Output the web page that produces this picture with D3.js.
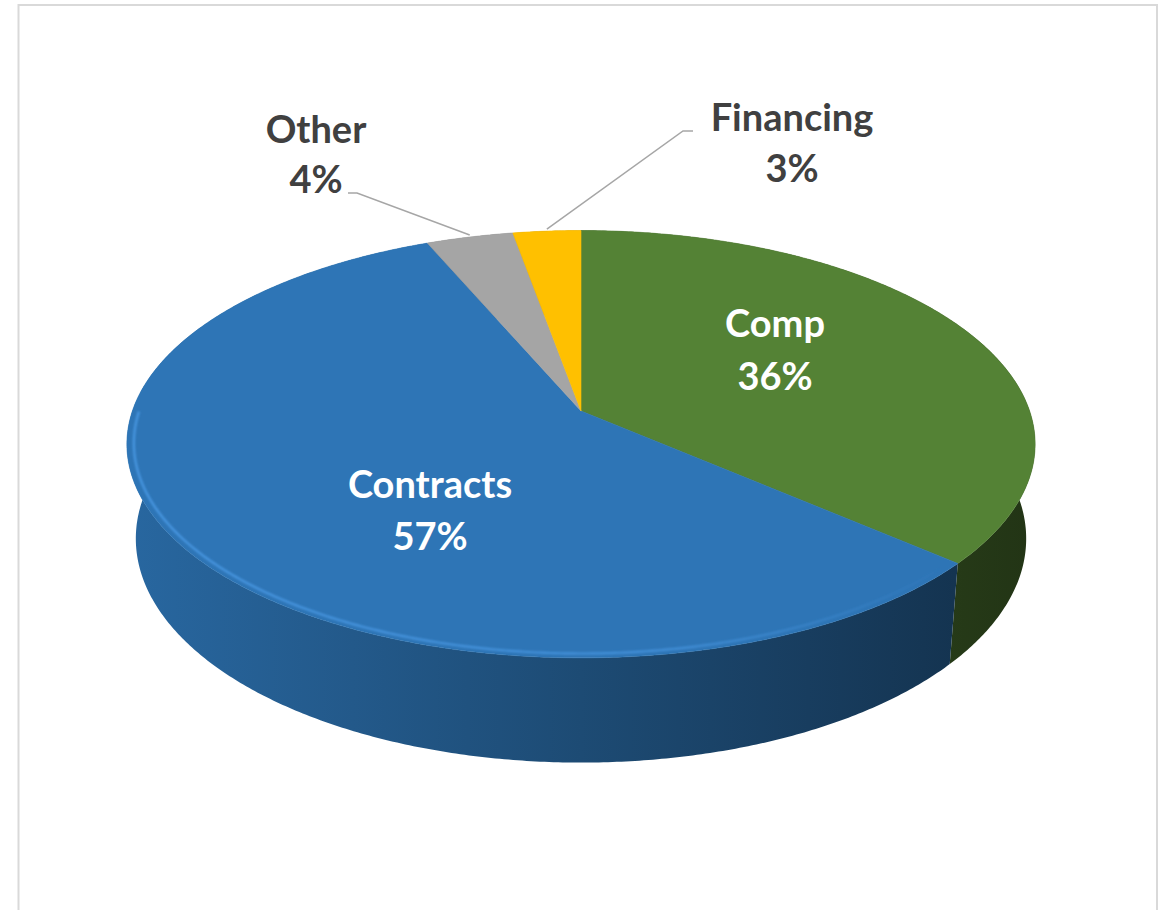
<!DOCTYPE html>
<html lang="en">
<head>
<meta charset="UTF-8">
<title>3D pie</title>
<style>
body { margin: 0; background: #fff; }
#canvas { width: 1164px; height: 910px; }
</style>
<script src="https://cdn.jsdelivr.net/npm/d3@7/dist/d3.min.js"></script>
</head>
<body>
<div id="canvas"></div>
<script>
// data
var categories = ["Comp", "Contracts", "Other", "Financing"];
var values = [36.4, 57.2, 3.6, 2.8];
var colors = ["#548235", "#2E75B6", "#A5A5A5", "#FFC000"];

// label placement (px)
var labelPos = {
  "Comp":      {x: 775, y: 337, fill: "#ffffff", gap: 53},
  "Contracts": {x: 430, y: 498, fill: "#ffffff", gap: 52},
  "Other":     {x: 316, y: 143, fill: "#404040", gap: 50, leader: [[348, 193], [357, 193]]},
  "Financing": {x: 792, y: 131, fill: "#404040", gap: 51, leader: [[693, 131], [683, 131]]}
};

var width = 1164, height = 910;

// simple perspective camera looking down on a unit disc
var cam = {cx: 581, cy: 411, D: 5.7, tilt: 27.7 * Math.PI / 180, f: 2557, h: 0.24};
var sinT = Math.sin(cam.tilt), cosT = Math.cos(cam.tilt);

function project(a, r, y) {
  var x = r * Math.sin(a), z = -r * Math.cos(a);
  var up = y * cosT - z * sinT;
  var depth = cam.D - (y * sinT + z * cosT);
  return [cam.cx + cam.f * x / depth, cam.cy - cam.f * up / depth];
}

var svg = d3.select("#canvas")
  .append("svg")
  .attr("width", width)
  .attr("height", height);

// frame
svg.append("path")
  .attr("d", "M18.5," + height + "V5H1157V" + height)
  .attr("fill", "none")
  .attr("stroke", "#d9d9d9")
  .attr("stroke-width", 2);

var defs = svg.append("defs");
defs.append("filter").attr("id", "soft")
  .append("feGaussianBlur").attr("stdDeviation", 0.9);
var hl = defs.append("linearGradient").attr("id", "rim")
  .attr("gradientUnits", "userSpaceOnUse")
  .attr("x1", 130).attr("x2", 950).attr("y1", 0).attr("y2", 0);
hl.append("stop").attr("offset", 0).attr("stop-color", "#4c9ce8").attr("stop-opacity", 0.9);
hl.append("stop").attr("offset", 0.65).attr("stop-color", "#4c9ce8").attr("stop-opacity", 0.7);
hl.append("stop").attr("offset", 1).attr("stop-color", "#4c9ce8").attr("stop-opacity", 0);

// side shading: lighter on the left, darker on the right
var shade = d3.scaleLinear().domain([-1, 1]).range([0.88, 0.40]);
var xExtent = [project(-Math.PI / 2, 1, 0)[0] - 2, project(Math.PI / 2, 1, 0)[0] + 2];

colors.forEach(function(col, i) {
  var g = defs.append("linearGradient").attr("id", "wall-" + i)
    .attr("gradientUnits", "userSpaceOnUse")
    .attr("x1", cam.cx - 455).attr("x2", cam.cx + 455).attr("y1", 0).attr("y2", 0);
  d3.range(0, 1.0001, 0.25).forEach(function(t) {
    var k = shade(-1 + 2 * t), c = d3.rgb(col);
    g.append("stop").attr("offset", t)
      .attr("stop-color", d3.rgb(c.r * k, c.g * k, c.b * k).formatHex());
  });
});

var pie = d3.pie().sort(null).value(function(d) { return d; });
var arcs = pie(values);
var total = d3.sum(values);
var pct = d3.format(".0%");
var line = d3.line();

var step = 0.5 * Math.PI / 180;

function rim(d, r, y) {
  var pts = [];
  var n = Math.max(2, Math.ceil((d.endAngle - d.startAngle) / step));
  for (var k = 0; k <= n; k++) {
    pts.push(project(d.startAngle + (d.endAngle - d.startAngle) * k / n, r, y));
  }
  return pts;
}

// side wall, one band per slice (back parts are hidden under the top face)
svg.append("g")
  .attr("class", "walls")
  .selectAll("path")
  .data(arcs.slice().sort(function(a, b) {
    return -Math.cos((a.startAngle + a.endAngle) / 2) - -Math.cos((b.startAngle + b.endAngle) / 2);
  }))
  .enter()
  .append("path")
  .attr("d", function(d) {
    return line(rim(d, 1, 0).concat(rim(d, 1, -cam.h).reverse())) + "Z";
  })
  .attr("fill", function(d) { return "url(#wall-" + d.index + ")"; });

// top face
svg.append("g")
  .attr("class", "tops")
  .selectAll("path")
  .data(arcs)
  .enter()
  .append("path")
  .attr("d", function(d) { return line([project(0, 0, 0)].concat(rim(d, 1, 0))) + "Z"; })
  .attr("fill", function(d, i) { return colors[i]; })
  .attr("stroke", function(d, i) { return colors[i]; })
  .attr("stroke-width", 0.6);

// bevel highlight on the front rim of the big slice
var big = arcs[1];
var rimPts = [];
var a0 = big.startAngle + 0.04, a1 = Math.min(big.endAngle, 1.5 * Math.PI);
for (var a = a0; a <= a1; a += step) rimPts.push(project(a, 0.985, 0));
svg.append("path")
  .attr("d", line(rimPts))
  .attr("fill", "none")
  .attr("stroke", "url(#rim)")
  .attr("stroke-width", 2.2)
  .attr("filter", "url(#soft)");

// leader lines
svg.append("g")
  .attr("class", "leaders")
  .selectAll("path")
  .data(arcs.filter(function(d, i) { return labelPos[categories[i]].leader; }))
  .enter()
  .append("path")
  .attr("d", function(d) {
    var p = labelPos[categories[d.index]].leader;
    var end = project((d.startAngle + d.endAngle) / 2, 1, 0);
    return line([p[0], p[1], [end[0], end[1] - 2]]);
  })
  .attr("fill", "none")
  .attr("stroke", "#a6a6a6")
  .attr("stroke-width", 1.5);

// labels
var label = svg.append("g")
  .attr("class", "labels")
  .selectAll("text")
  .data(arcs)
  .enter()
  .append("text")
  .attr("text-anchor", "middle")
  .style("font", "bold 38px Lato, 'Open Sans', sans-serif")
  .attr("fill", function(d, i) { return labelPos[categories[i]].fill; });

label.append("tspan")
  .attr("x", function(d, i) { return labelPos[categories[i]].x; })
  .attr("y", function(d, i) { return labelPos[categories[i]].y; })
  .text(function(d, i) { return categories[i]; });

label.append("tspan")
  .attr("x", function(d, i) { return labelPos[categories[i]].x; })
  .attr("y", function(d, i) { return labelPos[categories[i]].y + labelPos[categories[i]].gap; })
  .text(function(d) { return pct(d.value / total); });
</script>
</body>
</html>
